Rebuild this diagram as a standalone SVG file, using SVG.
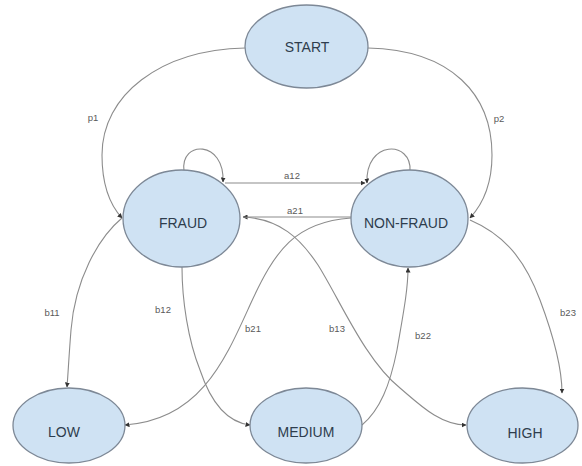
<svg xmlns="http://www.w3.org/2000/svg" width="582" height="466" viewBox="0 0 582 466">
<style>
.node ellipse{fill:#cfe2f3;stroke:#7d8896;stroke-width:1.3}
.node text{font-family:"Liberation Sans",Arial,sans-serif;font-size:14px;fill:#2e3d4d;text-anchor:middle;dominant-baseline:central}
.edge{fill:none;stroke:#8c8c8c;stroke-width:1.1}
.lbl{font-family:"Liberation Sans",Arial,sans-serif;font-size:9.5px;fill:#5a5a5a;text-anchor:middle;dominant-baseline:central}
</style>
<defs>
<marker id="arr" viewBox="0 0 10 10" refX="9" refY="5" markerWidth="5" markerHeight="5" orient="auto" markerUnits="userSpaceOnUse">
<path d="M0,0 L10,5 L0,10 z" fill="#333"/>
</marker>
</defs>
<rect width="582" height="466" fill="#fff"/>
<g id="connectors">
<path class="edge" marker-end="url(#arr)" d="M245,48 C160,50 102,95 102,155 C102,185 110,205 122,218"/>
<path class="edge" marker-end="url(#arr)" d="M368,48 C452,50 492,95 492,155 C492,185 482,205 470,218"/>
<path class="edge" marker-end="url(#arr)" d="M184,171 C180,140 225,140 223,182"/>
<path class="edge" marker-end="url(#arr)" d="M410,171 C412,140 365,140 367,183"/>
<path class="edge" marker-end="url(#arr)" d="M225,183 L365,183"/>
<path class="edge" marker-end="url(#arr)" d="M352,217 L243,217"/>
<path class="edge" marker-end="url(#arr)" d="M122,218 C98,238 75,280 71,330 C69,355 68,375 67,387"/>
<path class="edge" marker-end="url(#arr)" d="M182,267 C182,300 188,340 200,370 C210,400 225,422 250,425"/>
<path class="edge" marker-end="url(#arr)" d="M351,218 C295,222 275,250 250,305 C225,360 200,420 125,425"/>
<path class="edge" marker-end="url(#arr)" d="M243,217 C280,219 300,238 318,265 C340,300 365,360 400,388 C420,405 440,425 466,425"/>
<path class="edge" marker-end="url(#arr)" d="M362,425 C380,410 390,385 397,350 C403,315 408,290 408,268"/>
<path class="edge" marker-end="url(#arr)" d="M470,220 C505,235 525,260 540,300 C555,340 562,370 562,393"/>
<text class="lbl" x="93" y="117">p1</text>
<text class="lbl" x="499" y="118">p2</text>
<text class="lbl" x="292" y="175">a12</text>
<text class="lbl" x="295" y="210">a21</text>
<text class="lbl" x="52" y="312">b11</text>
<text class="lbl" x="163" y="309">b12</text>
<text class="lbl" x="253" y="328">b21</text>
<text class="lbl" x="337" y="328">b13</text>
<text class="lbl" x="423" y="335">b22</text>
<text class="lbl" x="568" y="312">b23</text>
</g>
<g id="start" class="node"><ellipse cx="306.5" cy="46.5" rx="61.5" ry="41.5"/><text x="307" y="47">START</text></g>
<g id="fraud" class="node"><ellipse cx="181.5" cy="218.5" rx="58.5" ry="48.5"/><text x="183" y="223">FRAUD</text></g>
<g id="nonfraud" class="node"><ellipse cx="409.5" cy="218.5" rx="58.5" ry="48.5"/><text x="406" y="223">NON-FRAUD</text></g>
<g id="low" class="node"><ellipse cx="69" cy="425.5" rx="56" ry="37.5"/><text x="64" y="432">LOW</text></g>
<g id="medium" class="node"><ellipse cx="306" cy="425.5" rx="56" ry="37.5"/><text x="306" y="432">MEDIUM</text></g>
<g id="high" class="node"><ellipse cx="522.5" cy="425.5" rx="55.5" ry="37.5"/><text x="525" y="433">HIGH</text></g>
</svg>
